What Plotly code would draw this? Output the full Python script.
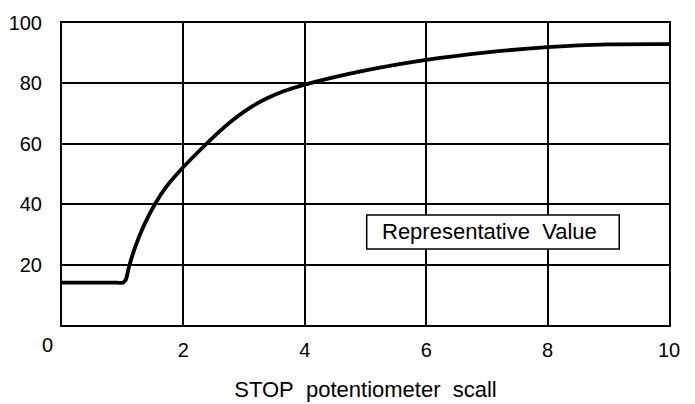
import plotly.graph_objects as go

# Data
pot_setting = [0, 0.9, 1.0, 1.05, 1.1, 1.2, 1.35, 1.53, 1.72, 2.0, 2.36, 2.6, 2.82, 3.1, 3.37, 3.65, 4.0, 5.0, 6.0, 7.0, 8.0, 9.0, 10.0]
value = [14, 14, 14, 15, 19, 25.5, 33, 40, 45.8, 52.3, 59.6, 64.2, 68, 72, 75, 77.4, 79.6, 84.3, 87.8, 90.3, 92, 92.9, 93]

x_ticks = [2, 4, 6, 8, 10]
y_ticks = [20, 40, 60, 80, 100]
x_title = "STOP\u00a0\u00a0potentiometer\u00a0\u00a0scall"
box_label = "Representative\u00a0\u00a0Value"
corner_label = "0"

FONT = "Liberation Sans, Arial, Helvetica, sans-serif"

fig = go.Figure()
fig.add_trace(go.Scatter(
    x=pot_setting, y=value, mode="lines",
    line=dict(color="black", width=3.8, shape="spline", smoothing=0.8),
    hoverinfo="skip", showlegend=False,
))

# page body has an 8px default margin, so the margins compensate for it
fig.update_layout(
    width=695, height=404,
    margin=dict(l=54, r=34, t=15, b=87),
    paper_bgcolor="white", plot_bgcolor="white",
    font=dict(family=FONT, size=20, color="black"),
    showlegend=False,
    xaxis=dict(
        range=[0, 10], tickvals=x_ticks, ticktext=[str(v) for v in x_ticks],
        showgrid=True, gridcolor="black", gridwidth=1.5,
        showline=True, mirror=True, linecolor="black", linewidth=2,
        zeroline=False, ticks="", ticklabelstandoff=6, automargin=False,
        title=dict(text=x_title, font=dict(size=22), standoff=22),
        tickfont=dict(size=20),
    ),
    yaxis=dict(
        range=[0, 100], tickvals=y_ticks, ticktext=[str(v) for v in y_ticks],
        showgrid=True, gridcolor="black", gridwidth=1.5,
        showline=True, mirror=True, linecolor="black", linewidth=2,
        zeroline=False, ticks="", ticklabelstandoff=14, automargin=False,
        tickfont=dict(size=20),
    ),
)

# Boxed label
fig.add_shape(type="rect", xref="x", yref="y", x0=5.02, x1=9.18, y0=25.2, y1=36.4,
              line=dict(color="black", width=1.5), fillcolor="white", layer="above")
fig.add_annotation(x=7.05, y=30.8, xref="x", yref="y", text=box_label, showarrow=False,
                   font=dict(size=22, color="black", family=FONT))

# Corner "0" label
fig.add_annotation(x=0, y=0, xref="x", yref="y", text=corner_label, showarrow=False,
                   xshift=-15, yshift=-20, font=dict(size=20, color="black", family=FONT))

fig.write_html("out.html")
